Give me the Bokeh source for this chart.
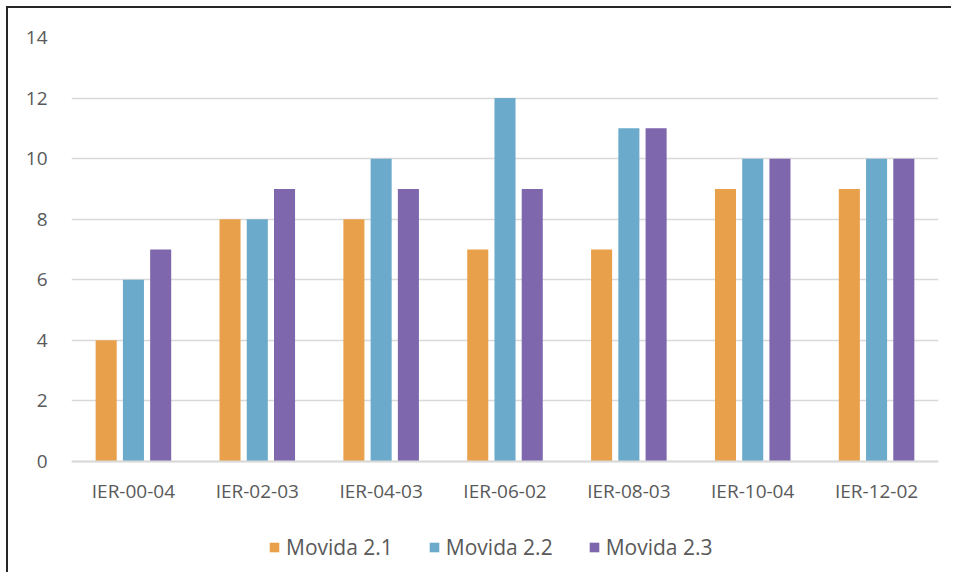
from bokeh.plotting import figure
from bokeh.models import ColumnDataSource, Range1d, FactorRange, FixedTicker, Legend, LegendItem, InlineStyleSheet
from bokeh.transform import dodge
from bokeh.embed import file_html
from bokeh.resources import INLINE

categories = ["IER-00-04", "IER-02-03", "IER-04-03", "IER-06-02", "IER-08-03", "IER-10-04", "IER-12-02"]
series_names = ["Movida 2.1", "Movida 2.2", "Movida 2.3"]
movida_21 = [4, 8, 8, 7, 7, 9, 9]
movida_22 = [6, 8, 10, 12, 11, 10, 10]
movida_23 = [7, 9, 9, 9, 11, 10, 10]
y_ticks = [0, 2, 4, 6, 8, 10, 12, 14]

colors = ["#E9A04B", "#6BAACB", "#7E67AC"]
FONT = "Open Sans"
TXT = "#595959"

source = ColumnDataSource(dict(cat=categories, s21=movida_21, s22=movida_22, s23=movida_23))

# y range extends below zero to leave room for category labels and legend inside the frame
p = figure(x_range=FactorRange(*categories), y_range=Range1d(-3.6, 14),
           width=945, height=566, output_backend="svg", toolbar_location=None,
           min_border_left=63, min_border_top=29, min_border_right=15, min_border_bottom=4)
p.x_range.range_padding = 0
p.stylesheets = [InlineStyleSheet(css=":host { margin-left: 6px; margin-top: 6px; border-left: 2px solid #262626; border-top: 2px solid #262626; }")]

renderers = []
for col, off, c in zip(["s21", "s22", "s23"], [-0.22, 0.0, 0.22], colors):
    r = p.vbar(x=dodge("cat", off, range=p.x_range), top=col, width=0.17, source=source,
               fill_color=c, line_color=None)
    renderers.append(r)

p.outline_line_color = None
p.xgrid.grid_line_color = None
p.ygrid.grid_line_color = "#d9d9d9"
p.ygrid.grid_line_width = 1.3

p.yaxis.ticker = FixedTicker(ticks=y_ticks)
p.yaxis.axis_line_color = None
p.yaxis.major_tick_line_color = None
p.yaxis.minor_tick_line_color = None
p.yaxis.major_label_standoff = 18
p.yaxis.major_label_text_font = FONT
p.yaxis.major_label_text_font_size = "19px"
p.yaxis.major_label_text_color = TXT

p.xaxis.fixed_location = 0
p.xaxis.axis_line_color = "#d9d9d9"
p.xaxis.axis_line_width = 2
p.xaxis.major_tick_line_color = None
p.xaxis.minor_tick_line_color = None
p.xaxis.major_label_standoff = 11
p.xaxis.major_label_text_font = FONT
p.xaxis.major_label_text_font_size = "19px"
p.xaxis.major_label_text_color = TXT

legend = Legend(items=[LegendItem(label=n, renderers=[r]) for n, r in zip(series_names, renderers)],
                orientation="horizontal", location=(197, 9),
                glyph_width=12, glyph_height=12, label_standoff=6, spacing=35,
                padding=2, margin=0, border_line_color=None, background_fill_alpha=0,
                label_text_font=FONT, label_text_font_size="21px", label_text_color=TXT)
p.add_layout(legend)

open("out.html", "w").write(file_html(p, INLINE))
